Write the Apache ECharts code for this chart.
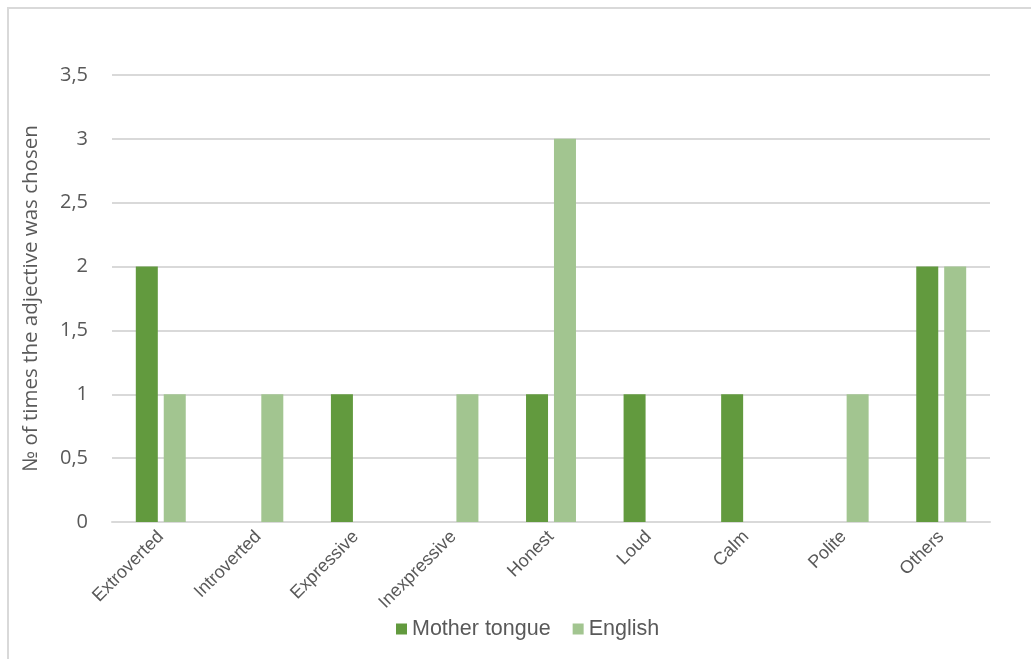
<!DOCTYPE html>
<html><head><meta charset="utf-8">
<script src="https://cdn.jsdelivr.net/npm/echarts@6/dist/echarts.min.js"></script>
<style>html,body{margin:0;padding:0;background:#fff}#c{width:1031px;height:659px}
#frame{position:absolute;left:7px;top:7px;width:1040px;height:670px;border:2px solid #d9d9d9;box-sizing:border-box;pointer-events:none}</style>
</head><body><div id="c"></div><div id="frame"></div>
<script>
const categories = ['Extroverted','Introverted','Expressive','Inexpressive','Honest','Loud','Calm','Polite','Others'];
const motherTongue = [2, 0, 1, 0, 1, 1, 1, 0, 2];
const english = [1, 1, 0, 1, 3, 0, 0, 1, 2];
const yTicks = [0, 0.5, 1, 1.5, 2, 2.5, 3, 3.5];

const chart = echarts.init(document.getElementById('c'));
chart.setOption({
  animation: false,
  grid: {left: 112, right: 41, top: 75, bottom: 137},
  legend: {
    bottom: 14, left: 391, itemWidth: 11, itemHeight: 11, itemGap: 22,
    icon: 'rect',
    textStyle: {fontFamily: 'Liberation Sans', fontSize: 21.5, color: '#595959', padding:[0,0,0,0]},
    data: ['Mother tongue', 'English']
  },
  xAxis: {
    type: 'category', data: categories,
    axisLine: {lineStyle: {color: '#d9d9d9', width: 2}},
    axisTick: {show: false},
    axisLabel: {rotate: 45, fontFamily: 'Liberation Sans', fontSize: 18, color: '#595959', margin: 12}
  },
  yAxis: {
    type: 'value', min: 0, max: 3.5, interval: 0.5,
    name: '№ of times the adjective was chosen', nameLocation: 'middle', nameGap: 70,
    nameTextStyle: {fontFamily: 'Open Sans', fontSize: 20.5, color: '#595959'},
    axisLine: {show: false}, axisTick: {show: false},
    splitLine: {lineStyle: {color: '#d9d9d9', width: 2}},
    axisLabel: {fontFamily: 'Open Sans', fontSize: 20, color: '#595959', margin: 24,
      formatter: v => String(v).replace('.', ',')}
  },
  series: [
    {name: 'Mother tongue', type: 'bar', data: motherTongue, barWidth: 22, barGap: '27%',
     itemStyle: {color: '#629a3e'}},
    {name: 'English', type: 'bar', data: english, barWidth: 22,
     itemStyle: {color: '#a2c590'}}
  ]
});
</script></body></html>
